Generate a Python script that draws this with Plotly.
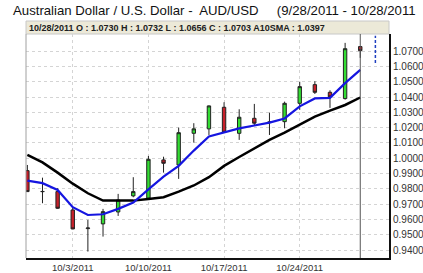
import plotly.graph_objects as go

dates = ["9/28/2011", "9/29/2011", "9/30/2011", "10/3/2011", "10/4/2011", "10/5/2011",
         "10/6/2011", "10/7/2011", "10/10/2011", "10/11/2011", "10/12/2011", "10/13/2011",
         "10/14/2011", "10/17/2011", "10/18/2011", "10/19/2011", "10/20/2011", "10/21/2011",
         "10/24/2011", "10/25/2011", "10/26/2011", "10/27/2011", "10/28/2011"]
opens = [0.9919, 0.9783, 0.9782, 0.9662, 0.9540, 0.9571, 0.9649, 0.9754, 0.9739, 0.9989,
         0.9956, 1.0163, 1.0192, 1.0333, 1.0163, 1.0261, 1.0233, 1.0239, 1.0359, 1.0481,
         1.0431, 1.0390, 1.0730]
highs = [0.9956, 0.9873, 0.9804, 0.9677, 0.9597, 0.9669, 0.9767, 0.9876, 1.0015, 1.0010,
         1.0200, 1.0229, 1.0345, 1.0366, 1.0320, 1.0355, 1.0298, 1.0370, 1.0500, 1.0503,
         1.0444, 1.0754, 1.0732]
lows = [0.9780, 0.9706, 0.9669, 0.9536, 0.9390, 0.9488, 0.9623, 0.9745, 0.9739, 0.9906,
        0.9865, 1.0102, 1.0152, 1.0170, 1.0120, 1.0211, 1.0152, 1.0196, 1.0316, 1.0420,
        1.0329, 1.0383, 1.0656]
closes = [0.9782, 0.9782, 0.9673, 0.9538, 0.9544, 0.9651, 0.9727, 0.9782, 0.9993, 0.9967,
          1.0167, 1.0192, 1.0342, 1.0170, 1.0268, 1.0229, 1.0237, 1.0359, 1.0468, 1.0431,
          1.0401, 1.0716, 1.0703]
neutral_days = ["9/29/2011", "10/4/2011", "10/20/2011"]
fast_ma = [0.9854, 0.9837, 0.9793, 0.9680, 0.9629, 0.9634, 0.9669, 0.9710, 0.9797, 0.9880,
           0.9950, 1.0050, 1.0142, 1.0167, 1.0195, 1.0214, 1.0233, 1.0260, 1.0339, 1.0391,
           1.0395, 1.0491, 1.0578]
sma10 = [1.0022, 0.9973, 0.9906, 0.9834, 0.9771, 0.9723, 0.9723, 0.9723, 0.9734, 0.9745,
         0.9782, 0.9822, 0.9876, 0.9950, 1.0008, 1.0065, 1.0120, 1.0167, 1.0218, 1.0272,
         1.0311, 1.0348, 1.0397]
next_range = [1.0623, 1.0800]
tick_dates = ["10/3/2011", "10/10/2011", "10/17/2011", "10/24/2011"]
y_ticks = [0.94, 0.95, 0.96, 0.97, 0.98, 0.99, 1.00, 1.01, 1.02, 1.03, 1.04, 1.05, 1.06, 1.07]

xi = list(range(len(dates)))
norm = [i for i, d in enumerate(dates) if d not in neutral_days]
neut = [i for i, d in enumerate(dates) if d in neutral_days]

GREEN = "#33dd33"
RED = "#c8202a"
fig = go.Figure()
fig.add_trace(go.Candlestick(
    x=norm, open=[opens[i] for i in norm], high=[highs[i] for i in norm],
    low=[lows[i] for i in norm], close=[closes[i] for i in norm],
    increasing=dict(fillcolor=GREEN, line=dict(color="#222222", width=1)),
    decreasing=dict(fillcolor=RED, line=dict(color="#222222", width=1)),
    showlegend=False, whiskerwidth=0))
fig.add_trace(go.Candlestick(
    x=neut, open=[opens[i] for i in neut], high=[highs[i] for i in neut],
    low=[lows[i] for i in neut], close=[closes[i] for i in neut],
    increasing=dict(fillcolor="white", line=dict(color="#222222", width=1)),
    decreasing=dict(fillcolor="white", line=dict(color="#222222", width=1)),
    showlegend=False, whiskerwidth=0))
fig.add_trace(go.Scatter(x=xi, y=sma10, mode="lines",
                         line=dict(color="black", width=2.5), showlegend=False))
fig.add_trace(go.Scatter(x=xi, y=fast_ma, mode="lines",
                         line=dict(color="#1515e0", width=2.2), showlegend=False))
fig.add_trace(go.Scatter(x=[len(dates)] * 2, y=next_range, mode="lines",
                         line=dict(color="#2040c0", width=1.5, dash="3px,2px"), showlegend=False))

last = len(dates) - 1
fig.add_shape(type="line", xref="x", yref="paper", x0=last, x1=last, y0=0, y1=1,
              line=dict(color="#555555", width=1))
fig.add_shape(type="line", xref="paper", yref="paper", x0=0, x1=0, y0=0, y1=1,
              line=dict(color="#a0a0a0", width=1))
fig.add_shape(type="rect", xref="paper", yref="paper", x0=0, x1=1, y0=1.0, y1=1.058,
              fillcolor="#ece9d8", line=dict(color="#c8c8c8", width=1), layer="below")

header = "%s O : %.4f H : %.4f L : %.4f C : %.4f A10SMA : %.4f" % (
    dates[-1], opens[-1], highs[-1], lows[-1], closes[-1], sma10[-1])
fig.add_annotation(text="<b>" + header + "</b>", xref="paper", yref="paper",
                   x=0.004, y=1.029, xanchor="left", yanchor="middle", showarrow=False,
                   font=dict(family="Liberation Sans, Arial", size=9, color="#202020"))
fig.add_annotation(text="Australian Dollar / U.S. Dollar -  AUD/USD&nbsp;&nbsp;&nbsp;&nbsp;&nbsp;(9/28/2011 - 10/28/2011",
                   xref="paper", yref="paper", x=-0.041, y=1.107, xanchor="left",
                   yanchor="middle", showarrow=False,
                   font=dict(family="Liberation Sans, Arial", size=13.2, color="#111111"))

fig.update_layout(
    width=423, height=273,
    margin=dict(l=26, r=34, t=34, b=15),
    paper_bgcolor="white", plot_bgcolor="white",
    boxgap=0.68,
    font=dict(family="Liberation Sans, Arial", size=10, color="#333333"),
    xaxis=dict(range=[-0.09, 23.9], tickvals=[dates.index(d) for d in tick_dates],
               ticktext=tick_dates, showgrid=True, gridcolor="#d4d4d4", griddash="dot",
               gridwidth=1, showline=True, linecolor="#111111", linewidth=2,
               rangeslider=dict(visible=False), zeroline=False, ticks="",
               automargin=False, tickfont=dict(size=9.5, color="#333333")),
    yaxis=dict(range=[0.9348, 1.0812], side="right", tickvals=y_ticks, tickformat=".4f",
               showgrid=True, gridcolor="#d4d4d4", griddash="dot", gridwidth=1,
               showline=True, linecolor="#111111", linewidth=2, zeroline=False,
               automargin=False, ticks="", tickfont=dict(size=10, color="#333333")),
)
fig.write_html("out.html")
